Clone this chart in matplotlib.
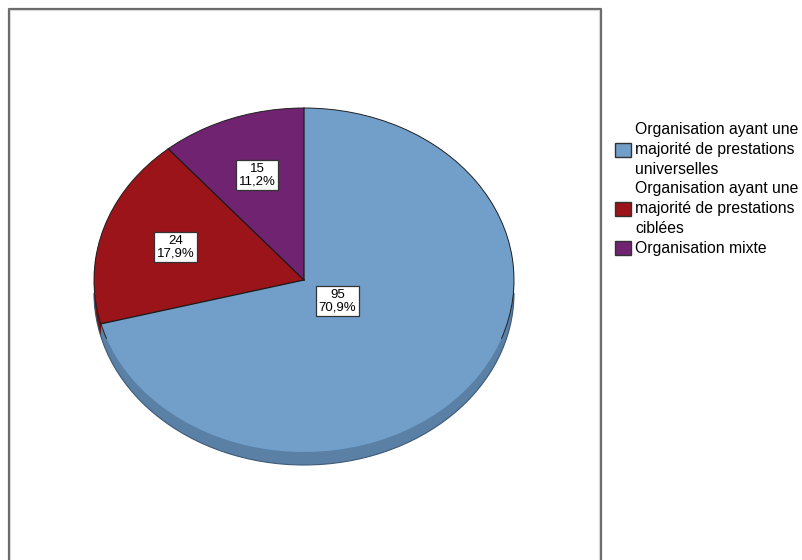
import numpy as np
import matplotlib.pyplot as plt
from matplotlib.lines import Line2D
from matplotlib.patches import Patch, Arc

plt.rcParams["font.family"] = ["Liberation Sans", "DejaVu Sans"]

# Répartition des organisations
categories = [
    "Organisation ayant une\nmajorité de prestations\nuniverselles",
    "Organisation ayant une\nmajorité de prestations\nciblées",
    "Organisation mixte",
]
counts = [95, 24, 15]
pct_labels = ["70,9%", "17,9%", "11,2%"]

TOP = ["#729fca", "#9a1419", "#6f2371"]
SIDE = ["#5b80a6", "#76100f", "#561a58"]
LABEL_R = [0.20, 0.64, 0.65]

W, H = 803, 560
fig = plt.figure(figsize=(W / 100, H / 100), dpi=100)

# pie ellipse in pixels: centre (304, 280), radii 210 x 172, wall depth 13 px
cx, cy, rx, ry = 304, 280, 210, 172
depth = 13 / ry
pad = 10
ax = fig.add_axes([(cx - rx - pad) / W, 1 - (cy + ry + 13 + pad) / H,
                   (2 * rx + 2 * pad) / W, (2 * ry + 13 + 2 * pad) / H])

# side wall: stacked copies of the pie shifted downward
for k in np.linspace(depth, 0.002, 16):
    ax.pie(counts, colors=SIDE, startangle=90, counterclock=False,
           center=(0, -k), radius=1, frame=True,
           wedgeprops=dict(linewidth=0))
ax.add_patch(Arc((0, -depth), 2, 2, theta1=180, theta2=360,
                 color="#3d5a78", linewidth=0.8))

wedges, _ = ax.pie(counts, colors=TOP, startangle=90, counterclock=False,
                   radius=1, frame=True, wedgeprops=dict(linewidth=0))

# outline on the upper rim, dividing lines between slices
ax.add_patch(Arc((0, 0), 2, 2, theta1=-20, theta2=200,
                 color="#222222", linewidth=0.7))
for w in wedges:
    a = np.deg2rad(w.theta1)
    ax.plot([0, np.cos(a)], [0, np.sin(a)], color="#1a1a1a", linewidth=0.9)

ax.set_xlim(-1 - pad / rx, 1 + pad / rx)
ax.set_ylim(-1 - depth - pad / ry, 1 + pad / ry)
ax.set_aspect("auto")
ax.set_axis_off()

for w, n, p, r in zip(wedges, counts, pct_labels, LABEL_R):
    mid = np.deg2rad((w.theta1 + w.theta2) / 2)
    ax.text(r * np.cos(mid), r * np.sin(mid), f"{n}\n{p}",
            ha="center", va="center", fontsize=9.5, linespacing=1.1,
            bbox=dict(boxstyle="square,pad=0.2", facecolor="white",
                      edgecolor="#333333", linewidth=0.9))

# chart frame (open at the bottom)
fx0, fx1, fy0 = 8.5 / W, 601 / W, 1 - 8.5 / H
fig.add_artist(Line2D([fx0, fx0, fx1, fx1], [0, fy0, fy0, 0],
                      color="#6a6a6a", linewidth=1.6,
                      transform=fig.transFigure))
fig.add_artist(Line2D([fx0 + 1.5 / W, fx0 + 1.5 / W, fx1 - 1.5 / W, fx1 - 1.5 / W],
                      [0, fy0 - 1.5 / H, fy0 - 1.5 / H, 0],
                      color="#d8d8d8", linewidth=0.8, transform=fig.transFigure))

handles = [Patch(facecolor=c, edgecolor="#333333", linewidth=1.0) for c in TOP]
leg = fig.legend(handles, categories, loc="upper left",
                 bbox_to_anchor=(615 / W, 1 - 122 / H), frameon=False,
                 fontsize=11.3, handlelength=1.0, handleheight=1.0,
                 handletextpad=0.3, labelspacing=0.3, borderpad=0,
                 borderaxespad=0)
for t in leg.get_texts():
    t.set_linespacing(1.4)

fig.savefig("out.png", dpi=100, facecolor="white")
